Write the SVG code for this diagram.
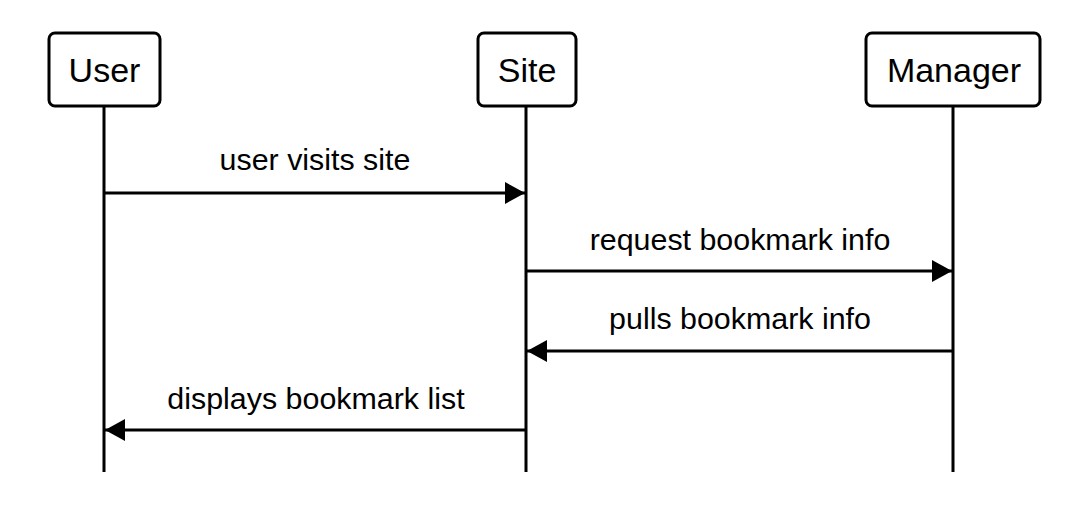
<svg xmlns="http://www.w3.org/2000/svg" width="1074" height="518" viewBox="0 0 1074 518">
<style>
.box{fill:#fff;stroke:#000;stroke-width:3}
.life{stroke:#000;stroke-width:3}
.msg{stroke:#000;stroke-width:3;fill:none}
.bt{font-family:"Liberation Sans",Arial,sans-serif;font-size:34px;text-anchor:middle;fill:#000}
.lt{font-family:"Liberation Sans",Arial,sans-serif;font-size:30.4px;text-anchor:middle;fill:#000}
</style>
<defs>
<marker id="ah" markerWidth="20" markerHeight="22" refX="20" refY="11" orient="auto" markerUnits="userSpaceOnUse">
<path d="M0,0 L20,11 L0,22 Z" fill="#000"/>
</marker>
</defs>
<rect width="1074" height="518" fill="#fff"/>
<g id="lifelines">
<line class="life" x1="104" y1="107" x2="104" y2="472"/>
<line class="life" x1="526" y1="107" x2="526" y2="472"/>
<line class="life" x1="953" y1="107" x2="953" y2="472"/>
</g>
<g id="user">
<rect class="box" x="49" y="33" width="111" height="73" rx="6"/>
<text class="bt" x="104.5" y="82">User</text>
</g>
<g id="site">
<rect class="box" x="478" y="33" width="98" height="73" rx="6"/>
<text class="bt" x="527" y="82">Site</text>
</g>
<g id="manager">
<rect class="box" x="866" y="33" width="174" height="73" rx="6"/>
<text class="bt" x="954" y="82">Manager</text>
</g>
<g id="connectors">
<line class="msg" x1="104" y1="193" x2="525" y2="193" marker-end="url(#ah)"/>
<line class="msg" x1="526" y1="271" x2="952" y2="271" marker-end="url(#ah)"/>
<line class="msg" x1="953" y1="351" x2="527" y2="351" marker-end="url(#ah)"/>
<line class="msg" x1="526" y1="430" x2="105" y2="430" marker-end="url(#ah)"/>
<text class="lt" x="315" y="170">user visits site</text>
<text class="lt" x="740" y="250">request bookmark info</text>
<text class="lt" x="740" y="329">pulls bookmark info</text>
<text class="lt" x="316" y="409">displays bookmark list</text>
</g>
</svg>
